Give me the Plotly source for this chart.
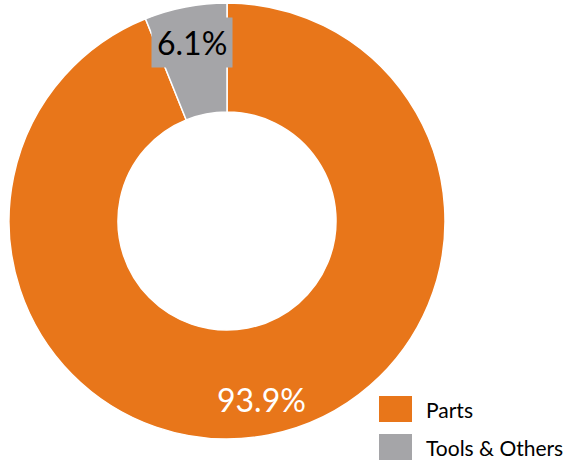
import math
import plotly.graph_objects as go

labels = ["Parts", "Tools & Others"]
values = [93.9, 6.1]
colors = ["#E8761A", "#A5A5A8"]
label_font_colors = ["white", "black"]

W, H = 572, 462
cx, cy, R = 227, 221, 218
r_lab = 182

fig = go.Figure(go.Pie(
    labels=labels, values=values, hole=0.5, sort=False,
    direction="clockwise", rotation=0,
    marker=dict(colors=colors, line=dict(color="white", width=1.5)),
    textinfo="none", hoverinfo="label+percent", showlegend=False,
    domain=dict(x=[(cx - R) / W, (cx + R) / W], y=[1 - (cy + R) / H, 1 - (cy - R) / H]),
))

annotations = []
shapes = []
total = sum(values)
cum = 0.0
for i, (lab, v) in enumerate(zip(labels, values)):
    mid = (cum + v / 2) / total * 2 * math.pi
    cum += v
    px = cx + r_lab * math.sin(mid)
    py = cy - r_lab * math.cos(mid)
    annotations.append(dict(
        x=px / W, y=1 - py / H, xref="paper", yref="paper",
        text=f"{v:.1f}%", showarrow=False,
        font=dict(family="Lato", size=32, color=label_font_colors[i]),
        bgcolor=colors[i] if i == 1 else None, borderpad=5,
        xanchor="center", yanchor="middle",
    ))
    # legend
    y0 = 396 + i * 38
    shapes.append(dict(type="rect", xref="paper", yref="paper",
                       x0=379 / W, x1=412 / W, y0=1 - (y0 + 26) / H, y1=1 - y0 / H,
                       fillcolor=colors[i], line=dict(width=0)))
    annotations.append(dict(
        x=424 / W, y=1 - (y0 + 13) / H, xref="paper", yref="paper",
        text=lab, showarrow=False, xanchor="left", yanchor="middle",
        font=dict(family="Lato", size=21, color="black"),
    ))

fig.update_layout(
    width=W, height=H, margin=dict(l=0, r=0, t=0, b=0),
    paper_bgcolor="white", plot_bgcolor="white",
    annotations=annotations, shapes=shapes, showlegend=False,
)
fig.write_html("out.html")
